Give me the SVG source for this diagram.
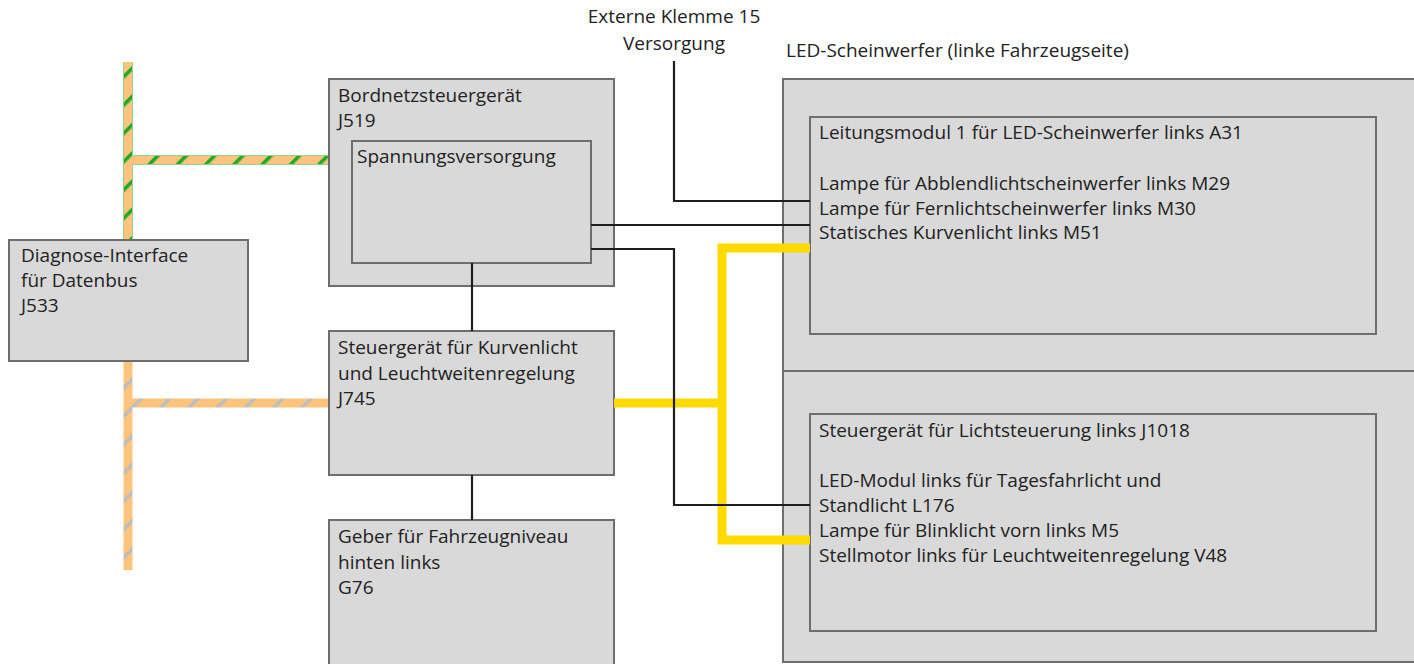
<svg xmlns="http://www.w3.org/2000/svg" width="1414" height="664" viewBox="0 0 1414 664">
  <style>
    .box { fill: #d9d9d9; stroke: #6e6e6e; stroke-width: 2; }
    .txt { font-family: "Open Sans", "Noto Sans", "Liberation Sans", sans-serif; font-size: 19px; fill: #222; }
    .mid { text-anchor: middle; }
    .wire { fill: none; stroke: #1e1e1e; stroke-width: 2.2; }
    .lin { fill: none; stroke: #ffda00; stroke-width: 9; stroke-linejoin: miter; }
  </style>
  <defs>
    <!-- CAN bus fill: orange with diagonal green stripes -->
    <pattern id="busGreen" patternUnits="userSpaceOnUse" width="20" height="20" patternTransform="rotate(45)">
      <rect width="20" height="20" fill="#ffc47c"/>
      <rect x="0" y="0" width="3.6" height="20" fill="#1fa82a"/>
    </pattern>
    <!-- CAN bus fill: orange with diagonal grey stripes -->
    <pattern id="busGrey" patternUnits="userSpaceOnUse" width="20" height="20" patternTransform="rotate(45)">
      <rect width="20" height="20" fill="#ffc47c"/>
      <rect x="0" y="0" width="3.6" height="20" fill="#bdbdbd"/>
    </pattern>
  </defs>

  <!-- data buses -->
  <g id="buses">
    <path d="M128 62 V240 M128 160 H330" fill="none" stroke="#8fd98f" stroke-width="10"/>
    <path d="M128 62 V240 M128 160 H330" fill="none" stroke="url(#busGreen)" stroke-width="8"/>
    <path d="M128 361 V570 M128 403 H330" fill="none" stroke="url(#busGrey)" stroke-width="9"/>
  </g>

  <g id="diagnose-j533">
    <rect class="box" x="9" y="240" width="239" height="121"/>
    <text class="txt" x="21" y="262">Diagnose-Interface</text>
    <text class="txt" x="21" y="287">für Datenbus</text>
    <text class="txt" x="21" y="312">J533</text>
  </g>

  <g id="bordnetz-j519">
    <rect class="box" x="329" y="79" width="285" height="207"/>
    <text class="txt" x="338" y="102">Bordnetzsteuergerät</text>
    <text class="txt" x="338" y="127">J519</text>
  </g>

  <g id="spannungsversorgung">
    <rect class="box" x="352" y="141" width="239" height="122"/>
    <text class="txt" x="357" y="163">Spannungsversorgung</text>
  </g>

  <g id="kurvenlicht-j745">
    <rect class="box" x="329" y="331" width="285" height="144"/>
    <text class="txt" x="338" y="354">Steuergerät für Kurvenlicht</text>
    <text class="txt" x="338" y="379.5">und Leuchtweitenregelung</text>
    <text class="txt" x="338" y="405">J745</text>
  </g>

  <g id="geber-g76">
    <rect class="box" x="329" y="520" width="285" height="150"/>
    <text class="txt" x="338" y="543">Geber für Fahrzeugniveau</text>
    <text class="txt" x="338" y="568.5">hinten links</text>
    <text class="txt" x="338" y="594">G76</text>
  </g>

  <g id="klemme15">
    <text class="txt mid" x="674" y="23">Externe Klemme 15</text>
    <text class="txt mid" x="674" y="50">Versorgung</text>
  </g>

  <g id="led-scheinwerfer">
    <text class="txt" x="786" y="57">LED-Scheinwerfer (linke Fahrzeugseite)</text>
    <rect class="box" x="783" y="79" width="640" height="292"/>
    <rect class="box" x="783" y="371" width="640" height="291"/>
  </g>

  <g id="leitungsmodul-a31">
    <rect class="box" x="810" y="117" width="566" height="217"/>
    <text class="txt" x="819" y="139">Leitungsmodul 1 für LED-Scheinwerfer links A31</text>
    <text class="txt" x="819" y="190">Lampe für Abblendlichtscheinwerfer links M29</text>
    <text class="txt" x="819" y="214.5">Lampe für Fernlichtscheinwerfer links M30</text>
    <text class="txt" x="819" y="239">Statisches Kurvenlicht links M51</text>
  </g>

  <g id="lichtsteuerung-j1018">
    <rect class="box" x="810" y="414" width="566" height="217"/>
    <text class="txt" x="819" y="437">Steuergerät für Lichtsteuerung links J1018</text>
    <text class="txt" x="819" y="487">LED-Modul links für Tagesfahrlicht und</text>
    <text class="txt" x="819" y="511.5">Standlicht L176</text>
    <text class="txt" x="819" y="536.5">Lampe für Blinklicht vorn links M5</text>
    <text class="txt" x="819" y="562">Stellmotor links für Leuchtweitenregelung V48</text>
  </g>

  <!-- wiring -->
  <g id="connectors">
    <path class="lin" d="M614 403 H722"/>
    <path class="lin" d="M810 248 H722 V540 H810"/>
    <path class="wire" d="M472 263 V331"/>
    <path class="wire" d="M472 475 V520"/>
    <path class="wire" d="M674 61 V201 H810"/>
    <path class="wire" d="M591 225 H810"/>
    <path class="wire" d="M591 249 H674 V505 H810"/>
  </g>
</svg>
